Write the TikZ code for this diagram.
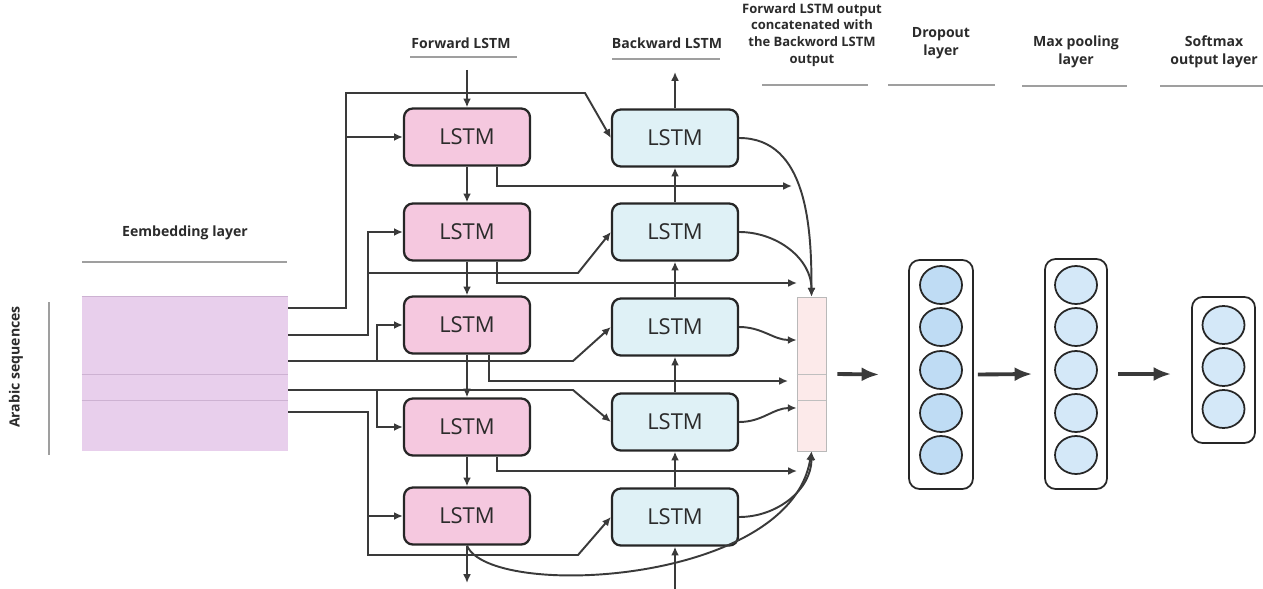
\documentclass[tikz,border=0pt]{standalone}
\usepackage{fontspec}
\setmainfont{Open Sans}
\usetikzlibrary{positioning}
\usetikzlibrary{calc}
\usetikzlibrary{arrows.meta}
\usetikzlibrary{shapes.geometric}
\definecolor{fwdpink}{HTML}{F5C8DF}
\definecolor{bwdblue}{HTML}{DFF1F6}
\definecolor{embpurple}{HTML}{E8CFEC}
\definecolor{embline}{HTML}{CDB2D2}
\definecolor{catpink}{HTML}{FCEAEA}
\definecolor{dropfill}{HTML}{BFDCF4}
\definecolor{poolfill}{HTML}{D4E8F8}
\definecolor{wire}{HTML}{3A3A3A}
\definecolor{boxline}{HTML}{262626}
\definecolor{textdark}{HTML}{2B2B2B}

\begin{document}
\begin{tikzpicture}[x=0.02cm, y=-0.02cm,
  fwd/.style={draw=boxline, fill=fwdpink, rounded corners=5pt, line width=1.3pt,
    minimum width=2.52cm, minimum height=1.14cm, text=textdark,
    font=\fontsize{12.5}{14}\selectfont},
  bwd/.style={fwd, fill=bwdblue},
  arrow/.style={-{Latex[length=5pt,width=4.5pt]}, draw=wire, line width=1.1pt},
  fat/.style={-{Latex[length=10pt,width=8pt]}, draw=wire, line width=2.2pt},
  layerbox/.style={draw=boxline, rounded corners=6pt, line width=1pt, inner sep=0pt},
  unit/.style={ellipse, draw=boxline, line width=1pt, minimum width=0.84cm,
    minimum height=0.76cm, inner sep=0pt},
  head/.style={font=\bfseries\fontsize{8}{10.2}\selectfont, align=center, text=textdark},
  rule/.style={draw=gray!75, line width=0.6pt}
]
\useasboundingbox (0,0) rectangle (1263,588);
		% Nodes
		\node[fill=embpurple, minimum width=4.12cm, minimum height=3.08cm, inner sep=0pt] (emb) at (185,374) {};
		\node[fwd] (f1) at (467,137) {LSTM};
		\node[fwd] (f2) at (467,232) {LSTM};
		\node[fwd] (f3) at (467,325) {LSTM};
		\node[fwd] (f4) at (467,427) {LSTM};
		\node[fwd] (f5) at (467,516) {LSTM};
		\node[bwd] (b1) at (675,138) {LSTM};
		\node[bwd] (b2) at (675,232) {LSTM};
		\node[bwd] (b3) at (675,327) {LSTM};
		\node[bwd] (b4) at (675,422) {LSTM};
		\node[bwd] (b5) at (675,517) {LSTM};
		\node[draw=gray!55, fill=catpink, minimum width=0.58cm, minimum height=3.08cm, inner sep=0pt] (cat) at (811.5,374) {};
		\node[layerbox, minimum width=1.28cm, minimum height=4.58cm] (drop) at (941,374.5) {};
		\node[unit, fill=dropfill] (d1) at (941,285) {};
		\node[unit, fill=dropfill] (d2) at (941,327) {};
		\node[unit, fill=dropfill] (d3) at (941,370) {};
		\node[unit, fill=dropfill] (d4) at (941,413) {};
		\node[unit, fill=dropfill] (d5) at (941,455) {};
		\node[layerbox, minimum width=1.24cm, minimum height=4.6cm] (pool) at (1076,374) {};
		\node[unit, fill=poolfill] (p1) at (1076,285) {};
		\node[unit, fill=poolfill] (p2) at (1076,327) {};
		\node[unit, fill=poolfill] (p3) at (1076,370) {};
		\node[unit, fill=poolfill] (p4) at (1076,413) {};
		\node[unit, fill=poolfill] (p5) at (1076,455) {};
		\node[layerbox, minimum width=1.26cm, minimum height=2.92cm] (soft) at (1223.5,370) {};
		\node[unit, fill=poolfill] (s1) at (1223.5,325) {};
		\node[unit, fill=poolfill] (s2) at (1223.5,367) {};
		\node[unit, fill=poolfill] (s3) at (1223.5,409) {};
		% Embedding rows and bus points
		\draw[embline] (emb.north west) -- (emb.north east);
		\draw[embline] (emb.west) -- (emb.east);
		\draw[embline] ($(emb.west)+(0,26)$) -- ($(emb.east)+(0,26)$);
		\draw[gray!50] (cat.west) -- (cat.east);
		\draw[gray!50] ($(cat.west)+(0,26)$) -- ($(cat.east)+(0,26)$);
		\coordinate (e1) at (288,308);
		\coordinate (e2) at (288,335);
		\coordinate (e3) at (288,361);
		\coordinate (e4) at (288,390);
		\coordinate (e5) at (288,412);
		\coordinate (j1) at (346,93);
		\coordinate (j2) at (368,273);
		\coordinate (j3) at (377,361);
		\coordinate (j4) at (377,390);
		\coordinate (j5) at (368,555);
		\coordinate (fin) at (467,70);
		\coordinate (fout) at (467,583);
		\coordinate (bin) at (675,590);
		\coordinate (bout) at (675,72);
		\coordinate (o1) at (792,186);
		\coordinate (o2) at (797,283);
		\coordinate (o3) at (788,381);
		\coordinate (o4) at (797,471);
		% Arrows
		\draw[arrow] (e1) -| (j1) -- ++(239,0) -- (b1.west);
		\draw[arrow] (j1 |- f1.west) -- (f1.west);
		\draw[arrow] (e2) -| (j2 |- f2.west) -- (f2.west);
		\draw[arrow] (j2) -- ++(210,0) -- (b2.west);
		\draw[arrow] (e3) -- ++(285,0) -- (b3.west);
		\draw[arrow] (j3) |- (f3.west);
		\draw[arrow] (e4) -- ++(285,0) -- (b4.west);
		\draw[arrow] (j4) |- (f4.west);
		\draw[arrow] (e5) -| (j5) -- ++(210,0) -- (b5.west);
		\draw[arrow] (j5 |- f5.west) -- (f5.west);
		\draw[arrow] (fin) -- (f1);
		\draw[arrow] (f1) -- (f2);
		\draw[arrow] (f2) -- (f3);
		\draw[arrow] (f3) -- (f4);
		\draw[arrow] (f4) -- (f5);
		\draw[arrow] (f5) -- (fout);
		\draw[arrow] (bin) -- (b5);
		\draw[arrow] (b5) -- (b4);
		\draw[arrow] (b4) -- (b3);
		\draw[arrow] (b3) -- (b2);
		\draw[arrow] (b2) -- (b1);
		\draw[arrow] (b1) -- (bout);
		\draw[arrow] ([xshift=0.6cm]f1.south) |- (o1);
		\draw[arrow] ([xshift=0.6cm]f2.south) |- (o2);
		\draw[arrow] ([xshift=0.44cm]f3.south) |- (o3);
		\draw[arrow] ([xshift=0.6cm]f4.south) |- (o4);
		\draw[arrow] (b1.east) to[out=0, in=90] (cat.north);
		\draw[arrow] (b2.east) to[out=0, in=90] (cat.north);
		\draw[arrow] (b3.east) to[out=0, in=180] ([yshift=0.68cm]cat.west);
		\draw[arrow] (b4.east) to[out=0, in=180] ([yshift=-0.68cm]cat.west);
		\draw[arrow] (b5.east) to[out=0, in=-90] (cat.south);
		\draw[arrow] (f5.south) .. controls (490,600) and (790,585) .. (cat.south);
		\draw[fat] ([xshift=0.22cm]cat.east) -- ([xshift=-0.58cm]drop.west);
		\draw[fat] ([xshift=0.08cm]drop.east) -- ([xshift=-0.24cm]pool.west);
		\draw[fat] ([xshift=0.2cm]pool.east) -- ($(soft.west |- pool.east)+(-20,0)$);
		% Labels
		\node[head] (embhead) at (185,233) {Eembedding layer};
		\node[head, rotate=90] (arabic) at (16,367) {Arabic sequences};
		\node[head] (fwdhead) at (461,43) {Forward LSTM};
		\node[head] (bwdhead) at (667,43) {Backward LSTM};
		\node[head, font=\bfseries\fontsize{7.4}{9.6}\selectfont] (cathead) at (812,35) {Forward LSTM output\\concatenated with\\the Backword LSTM\\output};
		\node[head] (drophead) at (941,43) {Dropout\\layer};
		\node[head] (poolhead) at (1076,52) {Max pooling\\layer};
		\node[head] (softhead) at (1214,52) {Softmax\\output layer};
		\draw[rule] (82,262) -- (287,262);
		\draw[rule] (49,302) -- (49,455);
		\draw[rule] (410,57) -- (517,57);
		\draw[rule] (612,59) -- (720,59);
		\draw[rule] (762,85) -- (868,85);
		\draw[rule] (888,85) -- (995,85);
		\draw[rule] (1022,86) -- (1127,86);
		\draw[rule] (1160,86) -- (1263,86);
	\end{tikzpicture}
\end{document}
